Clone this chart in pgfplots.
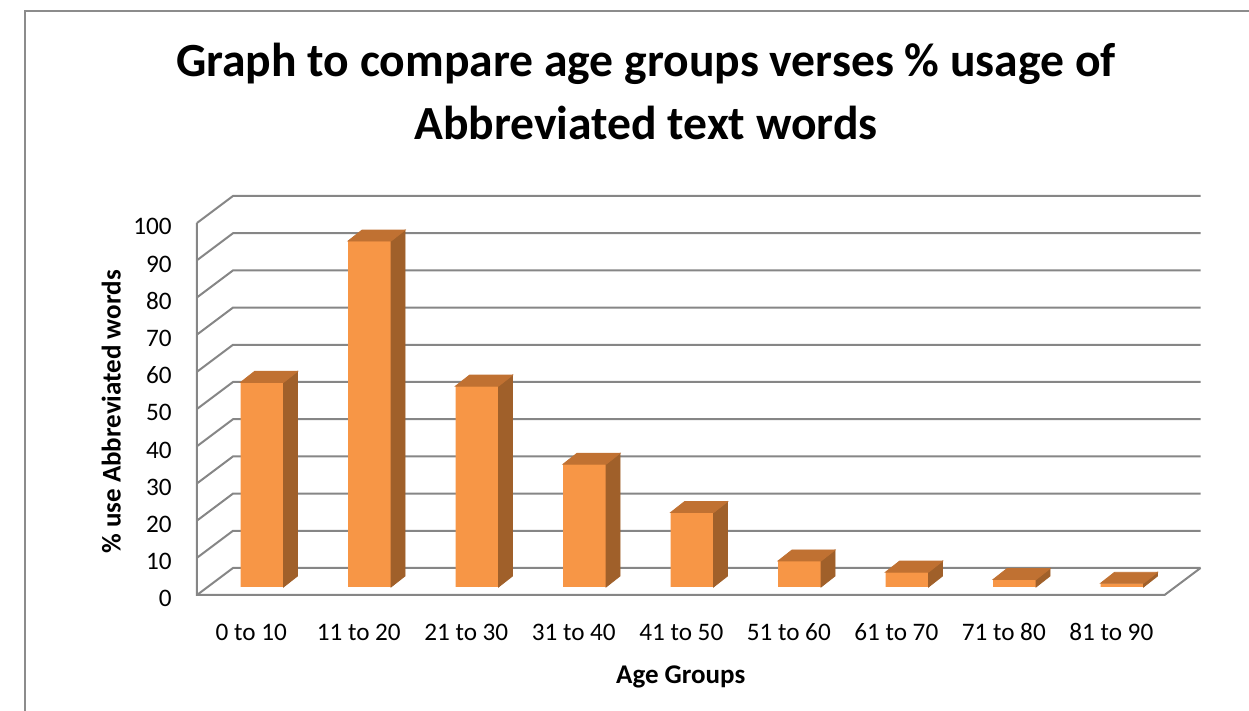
\documentclass[border=0pt]{standalone}
\usepackage{pgfplots}
\pgfplotsset{compat=1.18}
\usepackage{pgfplotstable}
\usepackage{fontspec}
\setmainfont{Carlito}
\definecolor{barfront}{HTML}{F79646}
\definecolor{bartop}{HTML}{C07132}
\definecolor{barside}{HTML}{A0602A}
\definecolor{gridc}{HTML}{868686}
\definecolor{framec}{HTML}{8C8C8C}
\pgfdeclareplotmark{nothing}{}
\pgfplotstableread{
idx val
0 55
1 93
2 54
3 33
4 20
5 7
6 4
7 2
8 1
}\agedata
\begin{document}
\begin{tikzpicture}
\path[use as bounding box] (0,0) rectangle (624.5pt,355.5pt);
\draw[framec, line width=1pt] (12.5pt,0) -- (12.5pt,350pt) -- (624.5pt,350pt);
\node[anchor=base, inner sep=0pt, font=\bfseries\fontsize{23.8}{28}\selectfont] at (323pt,317pt) {Graph to compare age groups verses \% usage of};
\node[anchor=base, inner sep=0pt, font=\bfseries\fontsize{23.8}{28}\selectfont] at (323pt,285.5pt) {Abbreviated text words};
\begin{axis}[
  at={(98.5pt,58pt)}, anchor=south west,
  x=53.75pt, y=1.86pt,
  xmin=-0.605, xmax=8.395, ymin=-2.15, ymax=97.85,
  axis line style={draw=none},
  clip=false,
  tick style={draw=none},
  xtick={-0.1,0.9,1.9,2.9,3.9,4.9,5.9,6.9,7.9},
  xticklabels={0 to 10,11 to 20,21 to 30,31 to 40,41 to 50,51 to 60,61 to 70,71 to 80,81 to 90},
  ytick={-2.15,7.85,17.85,27.85,37.85,47.85,57.85,67.85,77.85,87.85,97.85},
  yticklabels={0,10,20,30,40,50,60,70,80,90,100},
  tick label style={font=\fontsize{12.6}{15}\selectfont, inner sep=0pt, text=black},
  xticklabel style={anchor=base, yshift=-23pt},
  yticklabel style={anchor=base east, xshift=-12.5pt, yshift=-6pt},
  xlabel={Age Groups},
  ylabel={\% use Abbreviated words},
  label style={font=\bfseries\fontsize{13.5}{16}\selectfont, inner sep=0pt},
  xlabel style={at={(axis description cs:0.5,0)}, anchor=base, yshift=-44.5pt},
  ylabel style={at={(axis description cs:-0.0885,0.492)}, anchor=center},
]
% walls (left side wall diagonals and back wall gridlines)
\addplot[gridc, line width=1pt] coordinates {(-0.605,-2.15) (-0.27,5.11) (8.73,5.11)};
\addplot[gridc, line width=1pt] coordinates {(-0.605,7.85) (-0.27,15.11) (8.73,15.11)};
\addplot[gridc, line width=1pt] coordinates {(-0.605,17.85) (-0.27,25.11) (8.73,25.11)};
\addplot[gridc, line width=1pt] coordinates {(-0.605,27.85) (-0.27,35.11) (8.73,35.11)};
\addplot[gridc, line width=1pt] coordinates {(-0.605,37.85) (-0.27,45.11) (8.73,45.11)};
\addplot[gridc, line width=1pt] coordinates {(-0.605,47.85) (-0.27,55.11) (8.73,55.11)};
\addplot[gridc, line width=1pt] coordinates {(-0.605,57.85) (-0.27,65.11) (8.73,65.11)};
\addplot[gridc, line width=1pt] coordinates {(-0.605,67.85) (-0.27,75.11) (8.73,75.11)};
\addplot[gridc, line width=1pt] coordinates {(-0.605,77.85) (-0.27,85.11) (8.73,85.11)};
\addplot[gridc, line width=1pt] coordinates {(-0.605,87.85) (-0.27,95.11) (8.73,95.11)};
\addplot[gridc, line width=1pt] coordinates {(-0.605,97.85) (-0.27,105.11) (8.73,105.11)};
% front-left edge and floor
\addplot[gridc, line width=1pt] coordinates {(-0.605,97.85) (-0.605,-2.15) (8.395,-2.15) (8.73,5.11)};
% bar front faces
\addplot[ybar, bar width=0.4, bar shift=0pt, fill=barfront, draw=none] table[x=idx, y=val] \agedata;
% bar side and top faces
\addplot[scatter, only marks, mark=nothing,
  visualization depends on={rawy \as \barval},
  scatter/@pre marker code/.code={%
    \fill[barside] (0pt,0pt) -- (7pt,5.5pt) -- (7pt,{5.5pt-\barval*1.86pt}) -- (0pt,{-\barval*1.86pt}) -- cycle;
    \fill[bartop] (0pt,0pt) -- (-21.5pt,0pt) -- (-14.5pt,5.5pt) -- (7pt,5.5pt) -- cycle;
  },
  scatter/@post marker code/.code={},
] table[x expr=\thisrow{idx}+0.2, y=val] \agedata;
\end{axis}
\end{tikzpicture}
\end{document}
